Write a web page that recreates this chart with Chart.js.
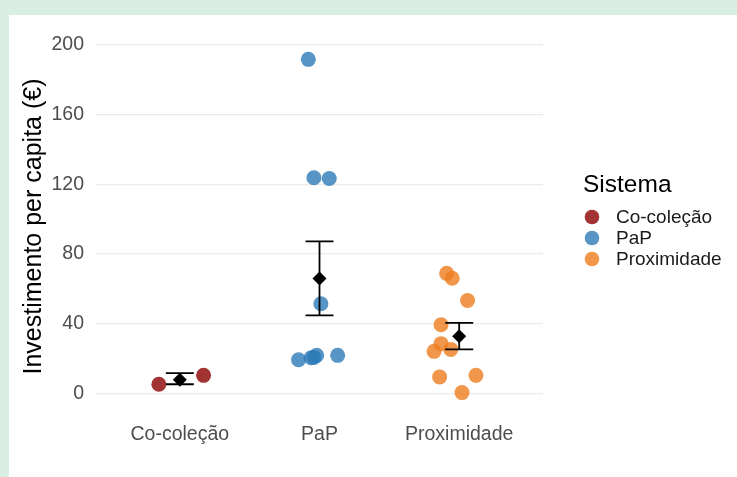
<!DOCTYPE html>
<html>
<head>
<meta charset="utf-8">
<script src="https://cdn.jsdelivr.net/npm/chart.js@4"></script>
<style>
  html, body { margin: 0; padding: 0; background: #DAEEE3; width: 737px; height: 477px; overflow: hidden; }
  #panel { position: absolute; left: 9px; top: 15px; width: 728px; height: 462px; background: #fff; }
</style>
</head>
<body>
<div id="panel"><canvas id="c" width="728" height="462"></canvas></div>
<script>
// Jitter strip plot: per-system investment per capita, with mean ± SE.
const categories = ['Co-coleção', 'PaP', 'Proximidade'];
const yTicks = [0, 40, 80, 120, 160, 200];
const legendTitle = 'Sistema';

// x = category position (1..3) plus the jitter
const coColX = [0.85, 1.17];
const coColY = [5.2, 10.3];
const papX = [1.92, 1.96, 2.07, 2.01, 1.85, 1.94, 1.98, 2.13, 1.96];
const papY = [191.8, 123.8, 123.4, 51.4, 19.3, 20.4, 21.8, 21.8, 20.6];
const proxX = [2.91, 2.95, 3.06, 2.87, 2.87, 2.82, 2.94, 2.86, 3.12, 3.02];
const proxY = [68.9, 66.1, 53.3, 39.4, 28.5, 24.1, 25.2, 9.4, 10.3, 0.4];

const means = [7.8, 66.0, 32.7];
const lower = [5.2, 44.7, 25.2];
const upper = [11.6, 87.3, 40.5];

const colors = ['rgba(139,0,0,0.8)', 'rgba(44,123,182,0.8)', 'rgba(238,125,30,0.8)'];
const CAP = 0.1; // half-width of error bar caps, in category units
const FONT = 'Liberation Sans, Arial, sans-serif';

const pts = (xs, ys) => xs.map((x, i) => ({ x, y: ys[i] }));

function errorBarData() {
  const out = [];
  categories.forEach((_, i) => {
    const c = i + 1;
    out.push({ x: c, y: lower[i] }, { x: c, y: upper[i] }, { x: c, y: null });
    out.push({ x: c - CAP, y: upper[i] }, { x: c + CAP, y: upper[i] }, { x: c, y: null });
    out.push({ x: c - CAP, y: lower[i] }, { x: c + CAP, y: lower[i] }, { x: c, y: null });
  });
  return out;
}

const groups = [pts(coColX, coColY), pts(papX, papY), pts(proxX, proxY)];
const datasets = groups.map((g, i) => ({
  label: categories[i], data: g, order: 2,
  backgroundColor: colors[i], borderWidth: 0, pointRadius: 7.5, pointHoverRadius: 7.5,
}));
datasets.push({
  label: 'se', type: 'line', data: errorBarData(), order: 1,
  borderColor: '#000', borderWidth: 1.8, pointRadius: 0, spanGaps: false, fill: false,
});
datasets.push({
  label: 'mean', data: means.map((m, i) => ({ x: i + 1, y: m })), order: 0,
  pointStyle: 'rectRot', pointRadius: 7, backgroundColor: '#000', borderWidth: 0,
});

// ggplot-style legend to the right of the panel (title + one dot per system)
const sideLegend = {
  id: 'sideLegend',
  afterDraw(chart) {
    const ctx = chart.ctx;
    const left = chart.chartArea.right + 40;
    ctx.save();
    ctx.fillStyle = '#000';
    ctx.font = `24.5px ${FONT}`;
    ctx.textBaseline = 'alphabetic';
    ctx.fillText(legendTitle, left, 177);
    ctx.font = `19px ${FONT}`;
    ctx.textBaseline = 'middle';
    categories.forEach((name, i) => {
      const y = 202 + i * 21;
      ctx.beginPath();
      ctx.arc(left + 9, y, 7.3, 0, Math.PI * 2);
      ctx.fillStyle = colors[i];
      ctx.fill();
      ctx.fillStyle = '#1a1a1a';
      ctx.fillText(name, left + 33, y + 1);
    });
    ctx.restore();
  },
};

const tickFont = { family: FONT, size: 19.5 };

new Chart(document.getElementById('c'), {
  type: 'scatter',
  data: { datasets },
  plugins: [sideLegend],
  options: {
    responsive: false, animation: false, events: [],
    layout: { padding: { top: 28, right: 194, left: 0, bottom: 0 } },
    plugins: { tooltip: { enabled: false }, legend: { display: false } },
    scales: {
      x: {
        type: 'linear', min: 0.4, max: 3.6,
        afterBuildTicks: (axis) => { axis.ticks = categories.map((_, i) => ({ value: i + 1 })); },
        afterFit: (axis) => { axis.height = 67; },
        grid: { display: false }, border: { display: false },
        ticks: { callback: (v) => categories[v - 1], color: '#4D4D4D', font: tickFont, padding: 5, maxRotation: 0, autoSkip: false },
      },
      y: {
        min: -9.6, max: 201.2,
        afterBuildTicks: (axis) => { axis.ticks = yTicks.map((v) => ({ value: v })); },
        afterFit: (axis) => { axis.width = 87; },
        grid: { color: '#EBEBEB', lineWidth: 1.2, drawTicks: false }, border: { display: false },
        ticks: { color: '#4D4D4D', font: tickFont, padding: 12 },
        title: { display: true, text: 'Investimento per capita (€)', color: '#000', font: { family: FONT, size: 25 }, padding: { top: 10, bottom: 0 } },
      },
    },
  },
});
</script>
</body>
</html>
